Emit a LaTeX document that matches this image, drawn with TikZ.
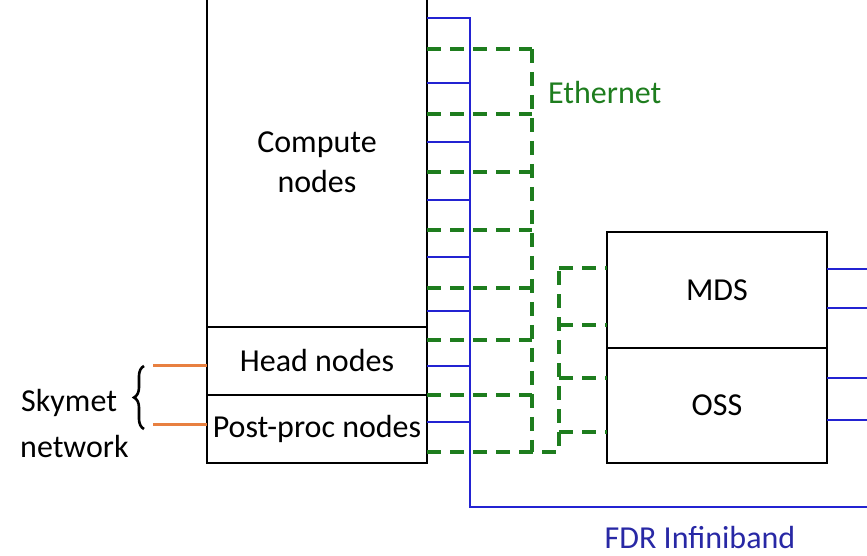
\documentclass[tikz,border=0pt]{standalone}
\usepackage{fontspec}
\setmainfont{Carlito}
\usetikzlibrary{positioning,decorations.pathreplacing}
\definecolor{ibblue}{RGB}{35,35,210}
\definecolor{ethgreen}{RGB}{30,125,30}
\definecolor{skyorange}{RGB}{232,128,64}
\definecolor{fdrblue}{RGB}{40,40,165}
\tikzset{
  box/.style={draw, line width=2.6pt, inner sep=0pt, outer sep=0pt, minimum width=220pt, align=center},
  ib/.style={ibblue, line width=2.8pt},
  eth/.style={ethgreen, line width=3.6pt, dash pattern=on 14pt off 9pt},
  sky/.style={skyorange, line width=3pt}
}
\begin{document}
\begin{tikzpicture}[x=1pt,y=1pt,font=\fontsize{32}{40}\selectfont]
    \clip (0,0) rectangle (867,556);
    \node[box, minimum height=329pt, anchor=north west] (compute) at (207,558) {Compute\\nodes};
    \node[box, minimum height=68pt, below=0pt of compute] (head) {Head nodes};
    \node[box, minimum height=68pt, below=0pt of head] (post) {Post-proc nodes};
    \node[box, minimum height=116pt, anchor=north west] (mds) at (607,324) {MDS};
    \node[box, minimum height=115pt, below=0pt of mds] (oss) {OSS};

    \coordinate (ibtop) at (470,538);
    \coordinate (ibbot) at (470,49);
    \coordinate (ibend) at (867,49);
    \coordinate (ethtop) at (532,507);
    \coordinate (ethbot) at (532,104);
    \coordinate (ethfs) at (559,104);
    \coordinate (ethfstop) at (559,288);
    \coordinate (skyend) at (153,0);

    \draw[ib] (compute.east |- ibtop) -- (ibtop) -- (ibbot) -- (ibend);
    \foreach \n/\y in {compute/473, compute/414, compute/356, compute/299, compute/245, head/190, post/134} { \draw[ib] (\n.east |- 0,\y) -- (ibtop |- 0,\y); }
    \foreach \n/\y in {mds/287, mds/248, oss/178, oss/136} { \draw[ib] (\n.east |- 0,\y) -- (ibend |- 0,\y); }

    \foreach \n/\y in {compute/507, compute/442, compute/384, compute/326, compute/268, head/216, post/161} { \draw[eth] (\n.east |- 0,\y) -- (ethtop |- 0,\y); }
    \draw[eth] (ethtop) -- (ethbot);
    \draw[eth] (post.east |- ethbot) -- (ethfs) -- (ethfstop);
    \foreach \n/\y in {mds/288, mds/231, oss/178, oss/124} { \draw[eth] (ethfs |- 0,\y) -- (\n.west |- 0,\y); }

    \draw[sky] (head.west |- 0,190) -- (skyend |- 0,190);
    \draw[sky] (post.west |- 0,131) -- (skyend |- 0,131);
    \draw[line width=2.6pt, decorate, decoration={brace, amplitude=10pt}] (144,127) -- (144,190);

    \node[anchor=west, inner sep=0pt] (skymet) at (21,153) {Skymet};
    \node[anchor=west, inner sep=0pt] (network) at (20,109) {network};
    \node[anchor=west, inner sep=0pt, text=ethgreen] (ethlabel) at (548,463) {Ethernet};
    \node[text=fdrblue] (fdr) at (700,18) {FDR Infiniband};
\end{tikzpicture}
\end{document}
